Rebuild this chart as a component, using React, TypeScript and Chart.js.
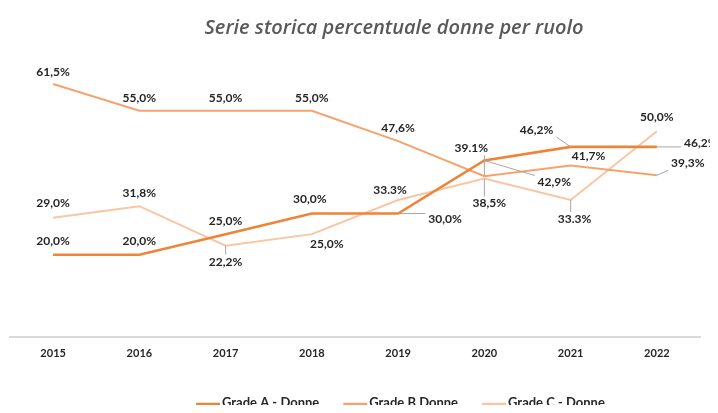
import React, { useEffect, useRef } from "react";
import { Chart, registerables } from "chart.js";

Chart.register(...registerables);

const years = ["2015", "2016", "2017", "2018", "2019", "2020", "2021", "2022"];
const gradeA = [20.0, 20.0, 25.0, 30.0, 30.0, 42.9, 46.2, 46.2];
const gradeB = [61.5, 55.0, 55.0, 55.0, 47.6, 39.1, 41.7, 39.3];
const gradeC = [29.0, 31.8, 22.2, 25.0, 33.3, 38.5, 33.3, 50.0];
const labelsA = ["20,0%", "20,0%", "25,0%", "30,0%", "30,0%", "42,9%", "46,2%", "46,2%"];
const labelsB = ["61,5%", "55,0%", "55,0%", "55,0%", "47,6%", "39.1%", "41,7%", "39,3%"];
const labelsC = ["29,0%", "31,8%", "22,2%", "25,0%", "33.3%", "38,5%", "33.3%", "50,0%"];
const seriesNames = ["Grade A - Donne", "Grade B Donne", "Grade C - Donne"];
const titleText = "Serie storica percentuale donne per ruolo";

const colors = ["#EF8436", "#F4A36C", "#F8C6A2"];
const widths = [2.6, 2, 2];

// label placement: [dx, dy, leader]
const placeA: [number, number, boolean][] = [
  [0, -14, false], [0, -14, false], [0, -13, false], [-2, -14, false],
  [47, 6, true], [70, 22, true], [-34, -17, true], [44, -4, true],
];
const placeB: [number, number, boolean][] = [
  [0, -12, false], [0, -13, false], [0, -13, false], [0, -13, false],
  [0, -13, false], [-13, -28, true], [18, -9, false], [31, -12, true],
];
const placeC: [number, number, boolean][] = [
  [0, -15, false], [0, -13, false], [0, 16, true], [15, 10, false],
  [-8, -10, false], [5, 25, true], [4, 19, true], [0, -14, false],
];

const FONT = "Lato, 'Open Sans', sans-serif";
const TITLE_FONT = "'Open Sans', Lato, sans-serif";

const annotPlugin = {
  id: "annot",
  afterDatasetsDraw(chart: any) {
    const ctx = chart.ctx as CanvasRenderingContext2D;
    const texts = [labelsA, labelsB, labelsC];
    const places = [placeA, placeB, placeC];
    ctx.save();
    ctx.font = `bold 12px ${FONT}`;
    ctx.textAlign = "center";
    ctx.textBaseline = "middle";
    for (let d = 0; d < 3; d++) {
      const meta = chart.getDatasetMeta(d);
      meta.data.forEach((pt: any, i: number) => {
        const [dx, dy, leader] = places[d][i];
        const lx = pt.x + dx;
        const ly = pt.y + dy;
        const txt = texts[d][i];
        if (leader) {
          const hw = ctx.measureText(txt).width / 2 + 3;
          const hh = 7;
          const cx = Math.max(lx - hw, Math.min(pt.x, lx + hw));
          const cy = Math.max(ly - hh, Math.min(pt.y, ly + hh));
          ctx.strokeStyle = "#A6A6A6";
          ctx.lineWidth = 1;
          ctx.beginPath();
          ctx.moveTo(pt.x, pt.y);
          ctx.lineTo(cx, cy);
          ctx.stroke();
        }
        ctx.fillStyle = "#262626";
        ctx.fillText(txt, lx, ly);
      });
    }
    ctx.restore();
  },
  afterDraw(chart: any) {
    const ctx = chart.ctx as CanvasRenderingContext2D;
    ctx.save();
    // title
    ctx.font = `italic 600 20px ${TITLE_FONT}`;
    ctx.fillStyle = "#595959";
    ctx.textAlign = "center";
    ctx.textBaseline = "middle";
    ctx.fillText(titleText, 394, 28);
    // legend
    ctx.font = `bold 13px ${FONT}`;
    ctx.textAlign = "left";
    let x = 196;
    const y = 403;
    for (let d = 0; d < 3; d++) {
      ctx.strokeStyle = colors[d];
      ctx.lineWidth = 2.5;
      ctx.beginPath();
      ctx.moveTo(x, y + 1);
      ctx.lineTo(x + 24, y + 1);
      ctx.stroke();
      x += 26;
      ctx.fillStyle = "#262626";
      ctx.fillText(seriesNames[d], x, y);
      x += ctx.measureText(seriesNames[d]).width + 24;
    }
    ctx.restore();
  },
};

export default function App() {
  const ref = useRef<HTMLCanvasElement>(null);
  useEffect(() => {
    if (!ref.current) return;
    const chart = new Chart(ref.current, {
      type: "line",
      data: {
        labels: years,
        datasets: [gradeA, gradeB, gradeC].map((vals, d) => ({
          label: seriesNames[d],
          data: vals,
          borderColor: colors[d],
          backgroundColor: colors[d],
          borderWidth: widths[d],
          pointRadius: 0,
          tension: 0,
          fill: false,
        })),
      },
      options: {
        animation: false,
        responsive: true,
        maintainAspectRatio: false,
        layout: { padding: { left: 10, right: 18, top: 49, bottom: 0 } },
        plugins: {
          legend: { display: false },
          title: { display: false },
          tooltip: { enabled: false },
        },
        scales: {
          x: {
            offset: true,
            grid: { display: false, drawTicks: false },
            border: { display: true, color: "#D9D9D9", width: 2 },
            ticks: {
              color: "#262626",
              padding: 10,
              font: { family: FONT, size: 11, weight: "bold" },
              maxRotation: 0,
            },
            afterFit(scale: any) {
              scale.height = 76;
            },
          },
          y: {
            display: false,
            min: 0,
            max: 70,
          },
        },
      },
      plugins: [annotPlugin],
    });
    return () => chart.destroy();
  }, []);
  return (
    <div style={{ position: "relative", width: 718, height: 413, margin: -8, background: "#fff" }}>
      <canvas ref={ref} />
    </div>
  );
}
